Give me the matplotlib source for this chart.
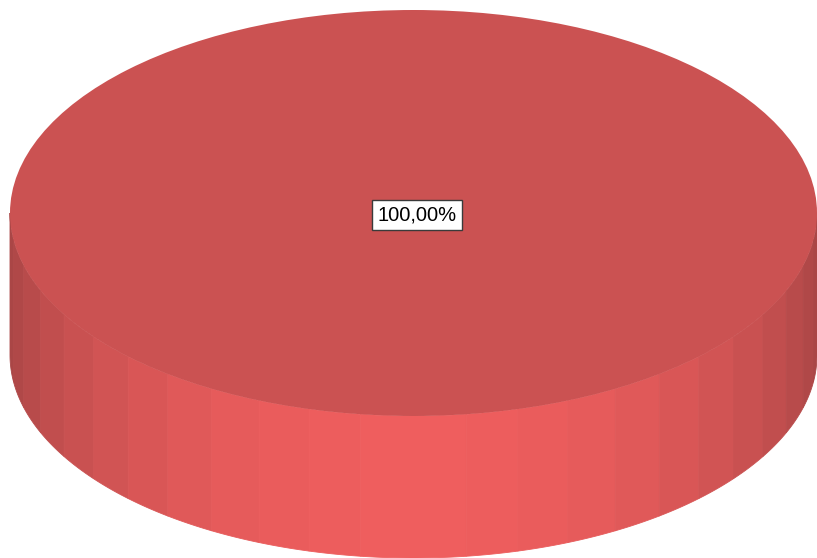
import numpy as np
import matplotlib.pyplot as plt
from matplotlib.patches import Ellipse, Polygon

# data
labels = ["100,00%"]
values = [100.0]
colors = ["#CB5252"]

# figure in pixel coordinates
fig = plt.figure(figsize=(8.17, 5.58), dpi=100)
ax = fig.add_axes([0, 0, 1, 1])
ax.set_xlim(0, 817)
ax.set_ylim(558, 0)
ax.axis("off")

cx, cy = 413.5, 213.0
a, b = 403.5, 203.0
depth = 142.0

top_rgb = np.array([0xCB, 0x52, 0x52]) / 255
edge_rgb = np.array([0xA8, 0x45, 0x45]) / 255
mid_rgb = np.array([0xEF, 0x5E, 0x5E]) / 255

total = sum(values)
start = 0.0
for val, lab, col in zip(values, labels, colors):
    sweep = 360.0 * val / total
    # side wall (only the front half is visible), drawn as shaded stripes
    n_stripes = 24
    edges = np.linspace(np.pi, 2 * np.pi, n_stripes + 1)
    for i in range(n_stripes):
        t = np.linspace(edges[i], edges[i + 1], 12)
        xs = cx + a * np.cos(t)
        ys = cy - b * np.sin(t)
        pts = np.column_stack([np.r_[xs, xs[::-1]], np.r_[ys, ys[::-1] + depth]])
        # shading: darker near the sides, brighter in front
        mid = 0.5 * (edges[i] + edges[i + 1])
        f = (-np.sin(mid)) ** 1.3
        c = edge_rgb + (mid_rgb - edge_rgb) * f
        ax.add_patch(Polygon(pts, closed=True, facecolor=c, edgecolor=c, lw=0.6))

    # top face
    ax.add_patch(Ellipse((cx, cy), 2 * a, 2 * b, facecolor=top_rgb, edgecolor="none"))

    # label
    ax.text(cx + 3.5, cy + 2, lab, ha="center", va="center", fontsize=14.5,
            family=["Liberation Sans", "DejaVu Sans"], color="black",
            bbox=dict(boxstyle="square,pad=0.28", facecolor="white",
                      edgecolor="#3a3a3a", linewidth=1.0))
    start += sweep

fig.savefig("out.png", dpi=100)
